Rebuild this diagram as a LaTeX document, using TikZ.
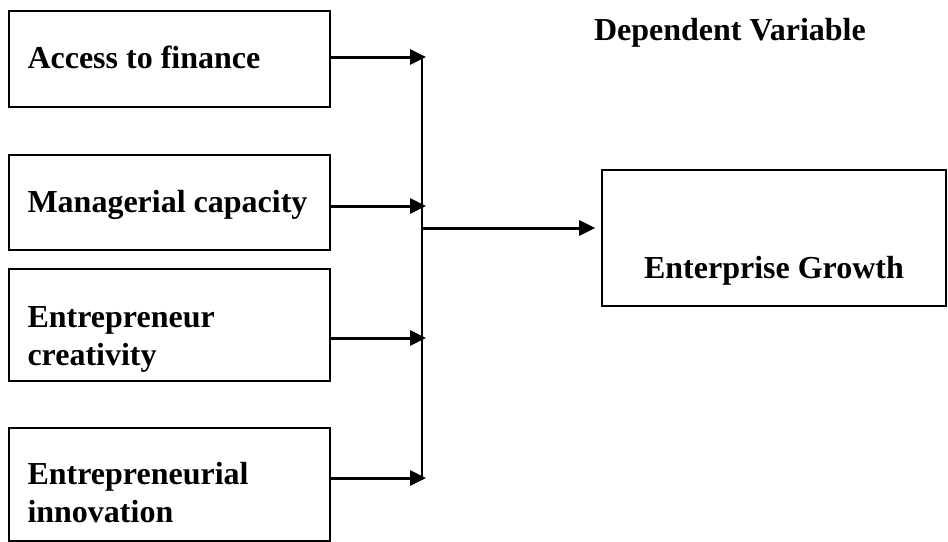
\documentclass[tikz,border=0pt]{standalone}
\usepackage{fontspec}
\setmainfont{Liberation Serif}
\usetikzlibrary{shapes,arrows,arrows.meta,positioning}

\begin{document}
\begin{tikzpicture}[
    x=0.5pt, y=-0.5pt,
    every node/.style={
        font=\fontsize{16}{19}\selectfont\bfseries
    },
    varbox/.style={
        draw, line width=0.8pt,
        minimum width=160.5pt,
        inner xsep=9.25pt, inner ysep=0pt,
        text width=142pt,
        align=flush left
    },
    link/.style={line width=1.5pt, -{Triangle[length=8pt,width=7.5pt]}}
]
\useasboundingbox (0,0) rectangle (948,541);

\node[varbox, text height=28.5pt, text depth=19.5pt] (finance) at (169.5,59) {Access to finance};
\node[varbox, text height=28.5pt, text depth=19pt] (capacity) at (169.5,202.5) {Managerial capacity};
\node[varbox, text height=29pt, text depth=27pt] (creativity) at (169.5,325) {Entrepreneur\\creativity};
\node[varbox, text height=28pt, text depth=28.5pt] (innovation) at (169.5,484.5) {Entrepreneurial\\innovation};

\node[draw, line width=0.8pt, minimum width=172pt, inner ysep=0pt,
      text height=54pt, text depth=14pt] (growth) at (774,238) {Enterprise Growth};
\node[anchor=west] (dep) at (587,33) {Dependent Variable};

% collecting line
\coordinate (bustop) at (422,57);
\coordinate (busbot) at (422,480);
\coordinate (b1) at (426,57);
\coordinate (b2) at (426,206);
\coordinate (b3) at (426,338);
\coordinate (b4) at (426,478);
\coordinate (out) at (422,228);

\draw[line width=0.7pt] (bustop) -- (busbot);
\draw[link] (finance.east |- b1) -- (b1);
\draw[link] (capacity.east |- b2) -- (b2);
\draw[link] (creativity.east |- b3) -- (b3);
\draw[link] (innovation.east |- b4) -- (b4);
\draw[link] (out) -- ([xshift=-3pt]growth.west |- out);
\end{tikzpicture}
\end{document}
